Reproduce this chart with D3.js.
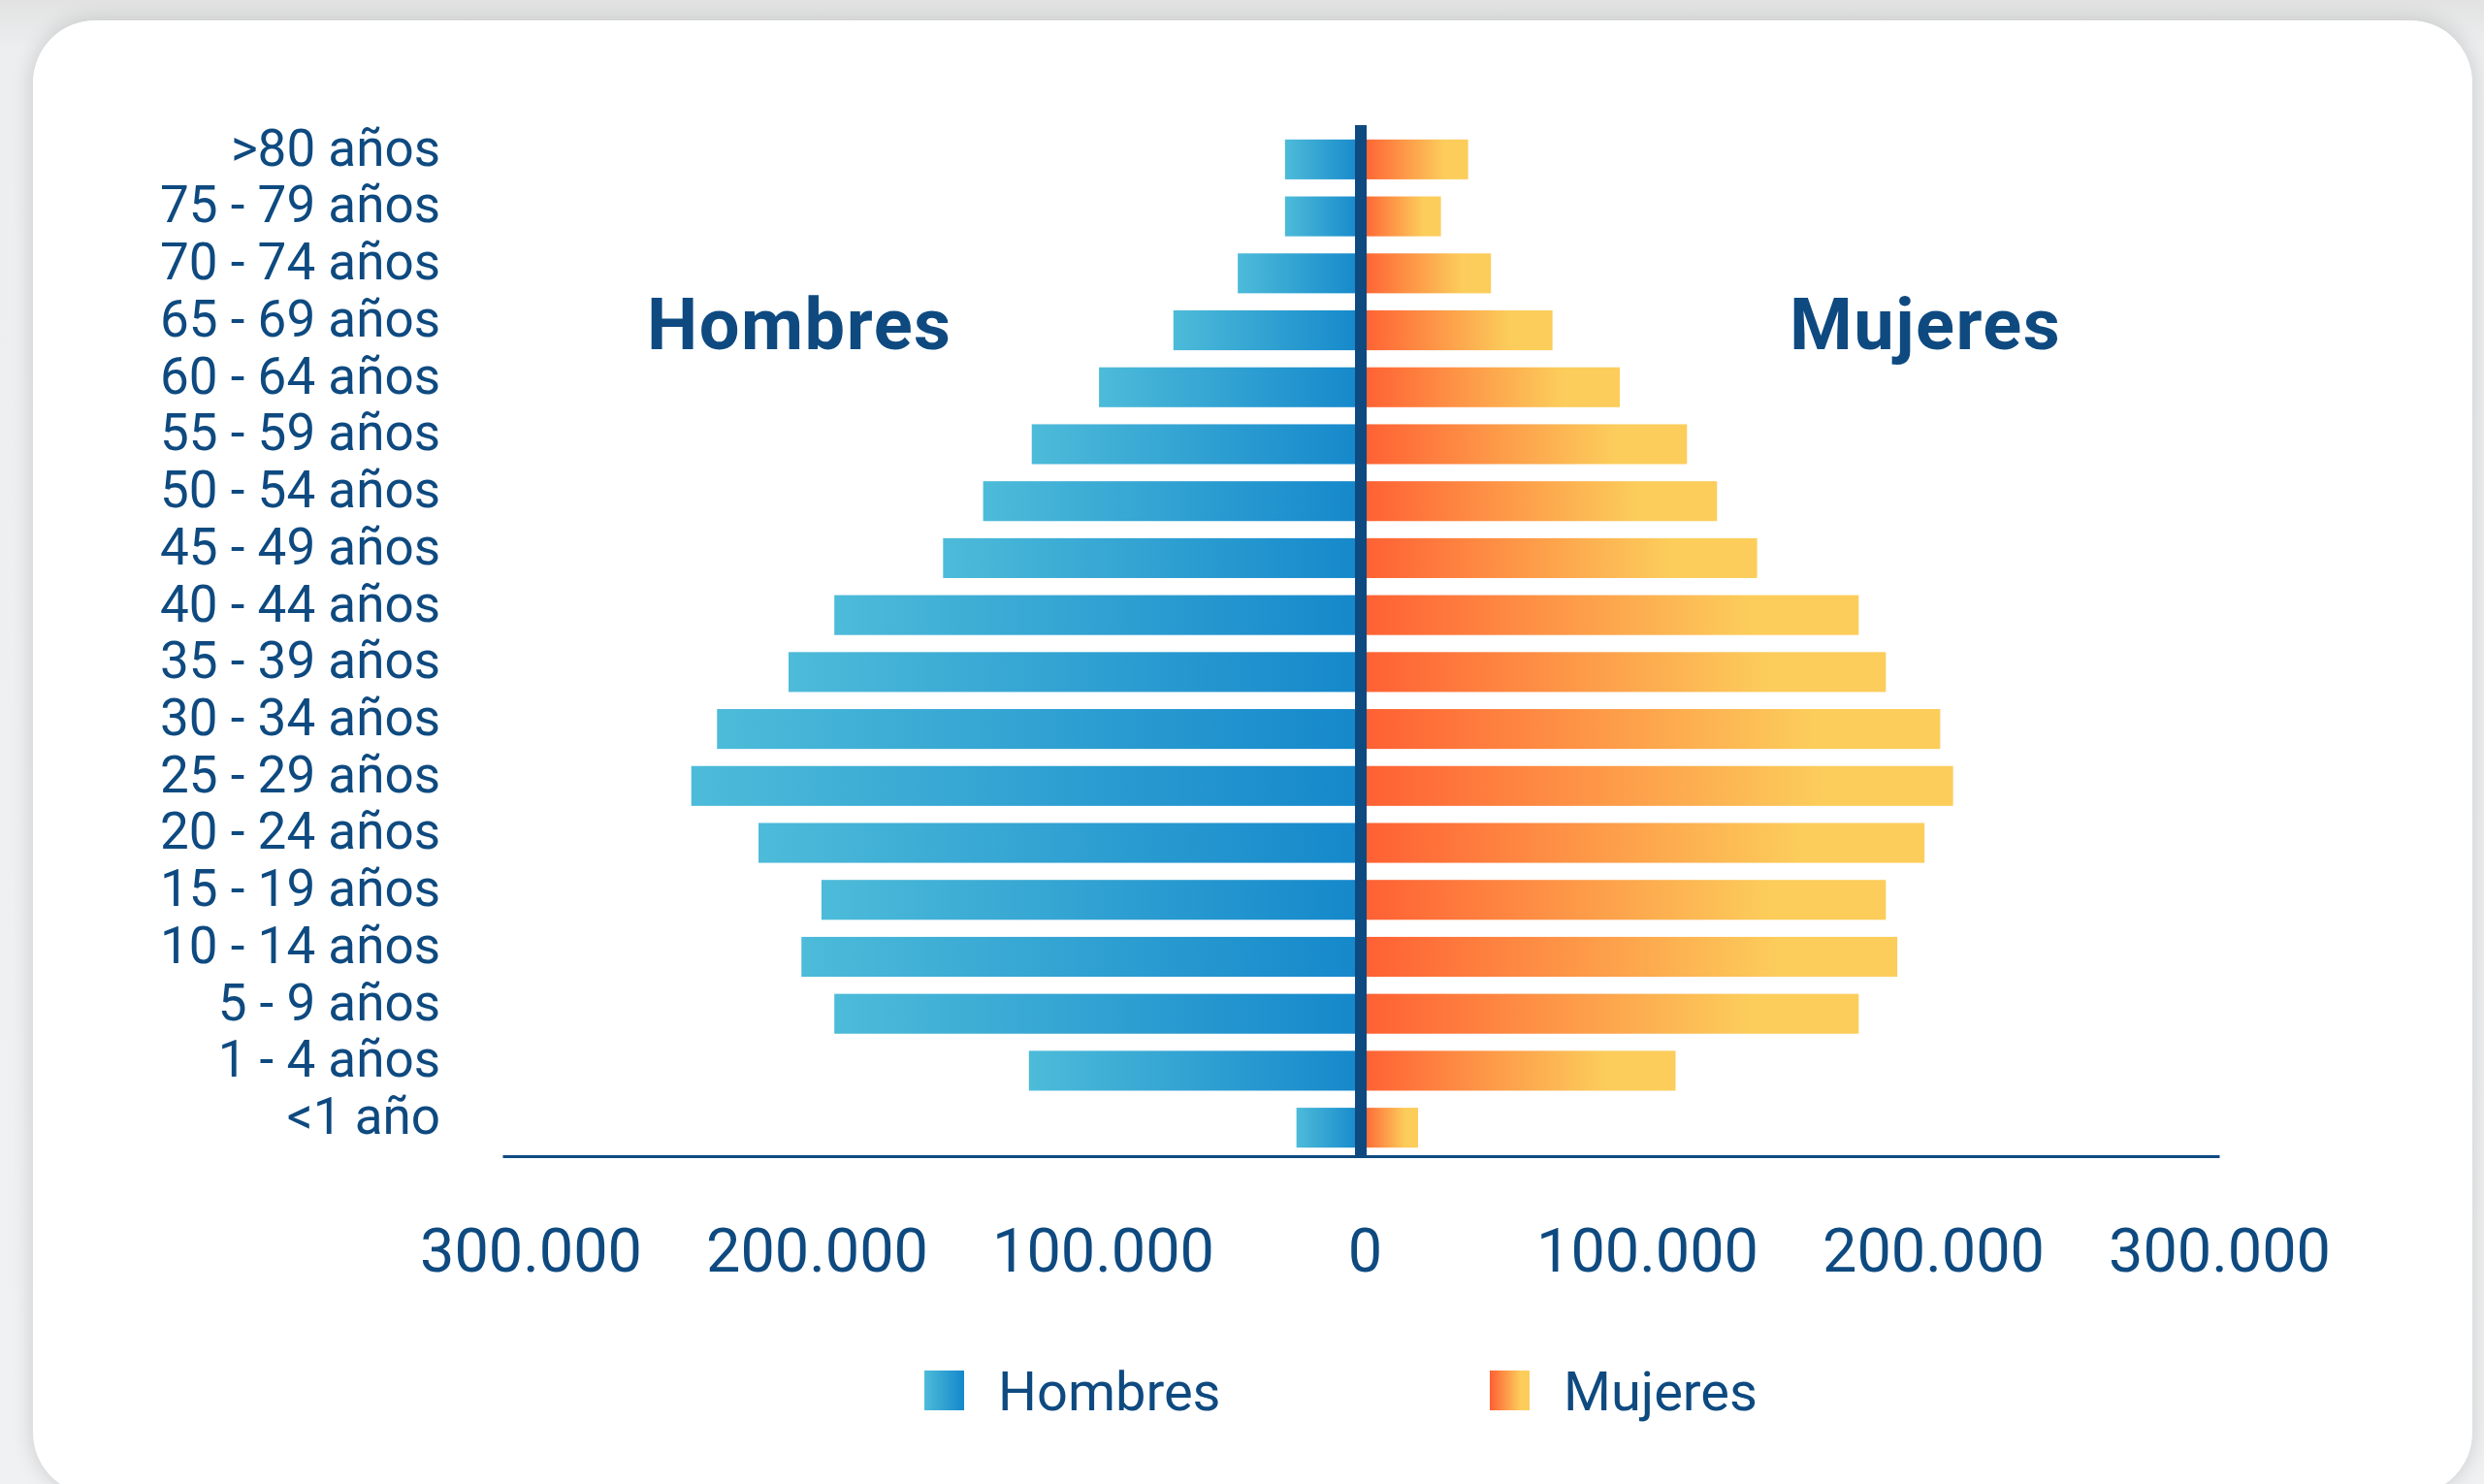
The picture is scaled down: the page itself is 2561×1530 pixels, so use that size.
<!DOCTYPE html>
<html>
<head>
<meta charset="utf-8">
<script src="https://cdn.jsdelivr.net/npm/d3@7"></script>
<style>
  html, body { margin: 0; padding: 0; }
  body { width: 2561px; height: 1530px; overflow: hidden; position: relative;
         background: linear-gradient(180deg, #e2e2e2 0px, #eceeef 50px, #f0f1f2 100%); }
  .card { position: absolute; left: 34px; top: 21px; width: 2515px; height: 1520px;
          background: #fff; border-radius: 64px; box-shadow: 0 0 22px rgba(0,0,0,0.16); }
  svg { position: absolute; left: 0; top: 0; }
  .cat text, .xaxis text { font-family: Roboto, "Open Sans", sans-serif; fill: #0e4a80; }
</style>
</head>
<body>
<div class="card"></div>
<script>
// age groups, top to bottom
var categories = [">80 años", "75 - 79 años", "70 - 74 años", "65 - 69 años", "60 - 64 años",
  "55 - 59 años", "50 - 54 años", "45 - 49 años", "40 - 44 años", "35 - 39 años",
  "30 - 34 años", "25 - 29 años", "20 - 24 años", "15 - 19 años", "10 - 14 años",
  "5 - 9 años", "1 - 4 años", "<1 año"];
var hombres = [26500, 26500, 43000, 65500, 91500, 115000, 132000, 146000, 184000, 200000,
  225000, 234000, 210500, 188500, 195500, 184000, 116000, 22500];
var mujeres = [37500, 28000, 45500, 67000, 90500, 114000, 124500, 138500, 174000, 183500,
  202500, 207000, 197000, 183500, 187500, 174000, 110000, 20000];
var tickValues = [-300000, -200000, -100000, 0, 100000, 200000, 300000];
var series = ["Hombres", "Mujeres"];

var width = 2561, height = 1530;
var navy = "#0e4a80";

var svg = d3.select("body").append("svg")
  .attr("width", width)
  .attr("height", height);

// gradients for bars and legend swatches
var defs = svg.append("defs");
var gM = defs.append("linearGradient").attr("id", "gradM")
  .attr("x1", 0).attr("x2", 1).attr("y1", 0).attr("y2", 0);
gM.append("stop").attr("offset", "0%").attr("stop-color", "#4dbbd9");
gM.append("stop").attr("offset", "100%").attr("stop-color", "#1588cb");
var gF = defs.append("linearGradient").attr("id", "gradF")
  .attr("x1", 0).attr("x2", 1).attr("y1", 0).attr("y2", 0);
gF.append("stop").attr("offset", "0%").attr("stop-color", "#ff5f33");
gF.append("stop").attr("offset", "78%").attr("stop-color", "#fccd5b");
gF.append("stop").attr("offset", "100%").attr("stop-color", "#fccd5b");

// scales
var x = d3.scaleLinear()
  .domain([-300000, 300000])
  .range([518, 2288]);
var y = d3.scaleBand()
  .domain(categories)
  .range([135, 1192])
  .paddingInner(0.3)
  .paddingOuter(0.15);

// male bars (left side)
svg.append("g").selectAll("rect")
  .data(hombres)
  .enter()
  .append("rect")
  .attr("x", function(d) { return x(-d); })
  .attr("y", function(d, i) { return y(categories[i]); })
  .attr("width", function(d) { return x(0) - x(-d); })
  .attr("height", y.bandwidth())
  .attr("fill", "url(#gradM)");

// female bars (right side)
svg.append("g").selectAll("rect")
  .data(mujeres)
  .enter()
  .append("rect")
  .attr("x", x(0))
  .attr("y", function(d, i) { return y(categories[i]); })
  .attr("width", function(d) { return x(d) - x(0); })
  .attr("height", y.bandwidth())
  .attr("fill", "url(#gradF)");

// central axis
svg.append("line")
  .attr("x1", x(0)).attr("x2", x(0))
  .attr("y1", y.range()[0] - 6).attr("y2", y.range()[1])
  .attr("stroke", navy)
  .attr("stroke-width", 12);

// bottom axis
var fmt = d3.formatLocale({ decimal: ",", thousands: ".", grouping: [3], currency: ["", ""] }).format(",");
var xAxis = d3.axisBottom(x)
  .tickValues(tickValues)
  .tickSize(0)
  .tickPadding(74)
  .tickFormat(function(d) { return fmt(Math.abs(d)); });
var gx = svg.append("g")
  .attr("class", "xaxis")
  .attr("transform", "translate(0," + y.range()[1] + ")")
  .call(xAxis);
gx.select(".domain").attr("stroke", navy).attr("stroke-width", 3);
gx.selectAll("text")
  .attr("font-size", 63)
  .attr("dx", function(d) { return d < 0 ? 29 : (d === 0 ? 4 : 0); });

// category labels
var yAxis = d3.axisLeft(y).tickSize(0).tickPadding(0);
var gy = svg.append("g")
  .attr("class", "cat")
  .attr("transform", "translate(454,0)")
  .call(yAxis);
gy.select(".domain").remove();
gy.selectAll("text")
  .attr("font-size", 53)
  .attr("dy", "0.12em");

// side titles
svg.append("text")
  .attr("x", 667).attr("y", 360)
  .attr("font-family", "Roboto, sans-serif")
  .attr("font-weight", 700)
  .attr("font-size", 74)
  .attr("letter-spacing", 1.5)
  .attr("fill", navy)
  .text("Hombres");
svg.append("text")
  .attr("x", 1845).attr("y", 360)
  .attr("font-family", "Roboto, sans-serif")
  .attr("font-weight", 700)
  .attr("font-size", 74)
  .attr("letter-spacing", 1.5)
  .attr("fill", navy)
  .text("Mujeres");

// legend
var legendX = [953, 1536];
var legend = svg.append("g").selectAll("g")
  .data(series)
  .enter()
  .append("g")
  .attr("transform", function(d, i) { return "translate(" + legendX[i] + ",1413)"; });
legend.append("rect")
  .attr("width", 41).attr("height", 41)
  .attr("fill", function(d, i) { return i === 0 ? "url(#gradM)" : "url(#gradF)"; });
legend.append("text")
  .attr("x", 76).attr("y", 41)
  .attr("font-family", "Roboto, sans-serif")
  .attr("font-size", 56)
  .attr("fill", navy)
  .text(function(d) { return d; });
</script>
</body>
</html>
